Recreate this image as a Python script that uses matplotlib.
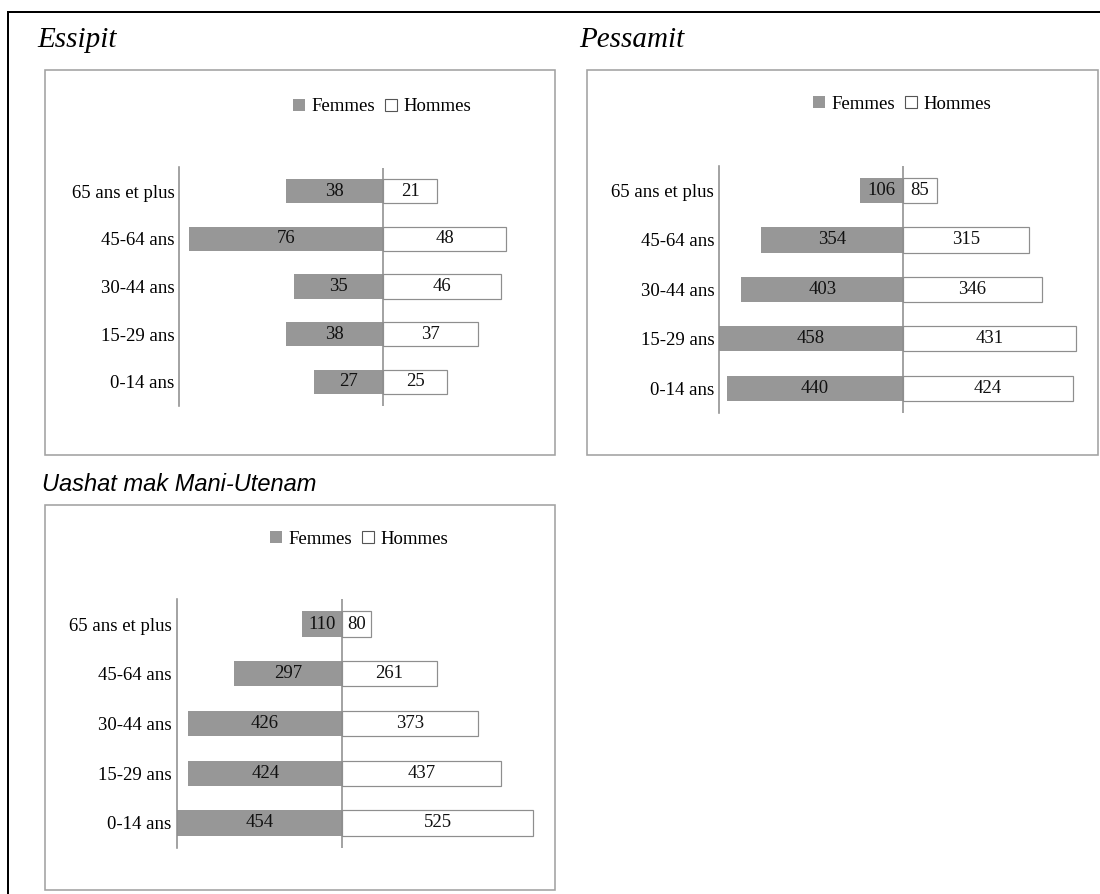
import matplotlib
matplotlib.use("Agg")
import matplotlib.pyplot as plt
from matplotlib.patches import Rectangle, Patch
from matplotlib.lines import Line2D

# Age groups (bottom to top) and population counts by sex
categories = ["0-14 ans", "15-29 ans", "30-44 ans", "45-64 ans", "65 ans et plus"]

essipit_femmes = [27, 38, 35, 76, 38]
essipit_hommes = [25, 37, 46, 48, 21]

pessamit_femmes = [440, 458, 403, 354, 106]
pessamit_hommes = [424, 431, 346, 315, 85]

uashat_femmes = [454, 424, 426, 297, 110]
uashat_hommes = [525, 437, 373, 261, 80]

series_names = ["Femmes", "Hommes"]

W, H = 1100, 894
DPI = 100
SERIF = "Liberation Serif"
FS = 13.5
GRAY_FILL = "#979797"
LINE_GRAY = "#8e8e8e"
BOX_GRAY = "#a2a2a2"

plt.rcParams["font.family"] = [SERIF, "DejaVu Serif"]

fig = plt.figure(figsize=(W / DPI, H / DPI), dpi=DPI)


def fx(px):
    return px / W


def fy(py):
    return 1 - py / H


# page frame (top and left rules)
px_lw = 72 / DPI
fig.add_artist(Line2D([fx(8), fx(W)], [fy(12), fy(12)], color="black",
                      lw=2 * px_lw, transform=fig.transFigure))
fig.add_artist(Line2D([fx(8), fx(8)], [fy(12), fy(H)], color="black",
                      lw=2 * px_lw, transform=fig.transFigure))


def panel(title, title_xy, title_font, box, ax_px, zero_px, scale, legend_xy,
          femmes, hommes):
    # chart border
    bx0, by0, bx1, by1 = box
    fig.add_artist(Rectangle((fx(bx0), fy(by1)), fx(bx1 - bx0), (by1 - by0) / H,
                             transform=fig.transFigure, fill=False,
                             edgecolor=BOX_GRAY, lw=1.6 * px_lw))
    # title
    fig.text(fx(title_xy[0]), fy(title_xy[1]), title, ha="left", va="baseline",
             **title_font)

    left, top, right, bottom = ax_px
    ax = fig.add_axes([fx(left), fy(bottom), fx(right - left), (bottom - top) / H])
    ax.set_facecolor("none")

    y = list(range(len(categories)))
    neg = [-v for v in femmes]
    bars_f = ax.barh(y, neg, height=0.51, color=GRAY_FILL, edgecolor="none",
                     label=series_names[0], zorder=2)
    bars_h = ax.barh(y, hommes, height=0.51, color="white", edgecolor=LINE_GRAY,
                     lw=1.0 * px_lw * 1.2, label=series_names[1], zorder=2)

    for b, v in zip(bars_f, femmes):
        ax.text(b.get_x() + b.get_width() / 2, b.get_y() + b.get_height() / 2,
                str(v), ha="center", va="center", fontsize=FS, color="#111111",
                zorder=4)
    for b, v in zip(bars_h, hommes):
        ax.text(b.get_x() + b.get_width() / 2, b.get_y() + b.get_height() / 2,
                str(v), ha="center", va="center", fontsize=FS, color="#111111",
                zorder=4)

    ax.set_xlim((left - zero_px) / scale, (right - zero_px) / scale)
    ax.set_ylim(-0.5, len(categories) - 0.5)
    ax.axvline(0, color=LINE_GRAY, lw=1.6 * px_lw, zorder=3)

    ax.set_yticks(y)
    ax.set_yticklabels(categories, fontsize=FS)
    ax.tick_params(axis="y", length=0, pad=3.5)
    ax.set_xticks([])
    for s in ("top", "right", "bottom"):
        ax.spines[s].set_visible(False)
    ax.spines["left"].set_color(LINE_GRAY)
    ax.spines["left"].set_linewidth(1.6 * px_lw)

    handles = [Patch(facecolor=GRAY_FILL, edgecolor="none"),
               Patch(facecolor="white", edgecolor="#555555", lw=0.8)]
    fig.legend(handles, series_names, loc="center",
               bbox_to_anchor=(fx(legend_xy[0]), fy(legend_xy[1])),
               bbox_transform=fig.transFigure, ncol=2, frameon=False,
               fontsize=FS, handlelength=0.62, handleheight=0.62,
               handletextpad=0.35, columnspacing=0.55, borderpad=0,
               borderaxespad=0)
    return ax


serif_title = dict(fontsize=21, fontstyle="italic", family=[SERIF])
sans_title = dict(fontsize=17, fontstyle="italic", family=["Liberation Sans"])

panel("Essipit", (37, 46.7), serif_title, (45, 70, 555, 455),
      (179.3, 167.5, 540, 405.7), 383.2, 2.555, (382, 106.7),
      essipit_femmes, essipit_hommes)

panel("Pessamit", (579.6, 46.7), serif_title, (587, 70, 1098, 455),
      (719, 165.7, 1085, 413), 903, 0.401, (902, 104.5),
      pessamit_femmes, pessamit_hommes)

panel("Uashat mak Mani-Utenam", (41.7, 490.7), sans_title, (45, 505, 555, 890),
      (176.6, 599.3, 545, 847.7), 342.2, 0.363, (359, 539),
      uashat_femmes, uashat_hommes)

fig.savefig("out.png", dpi=DPI)
